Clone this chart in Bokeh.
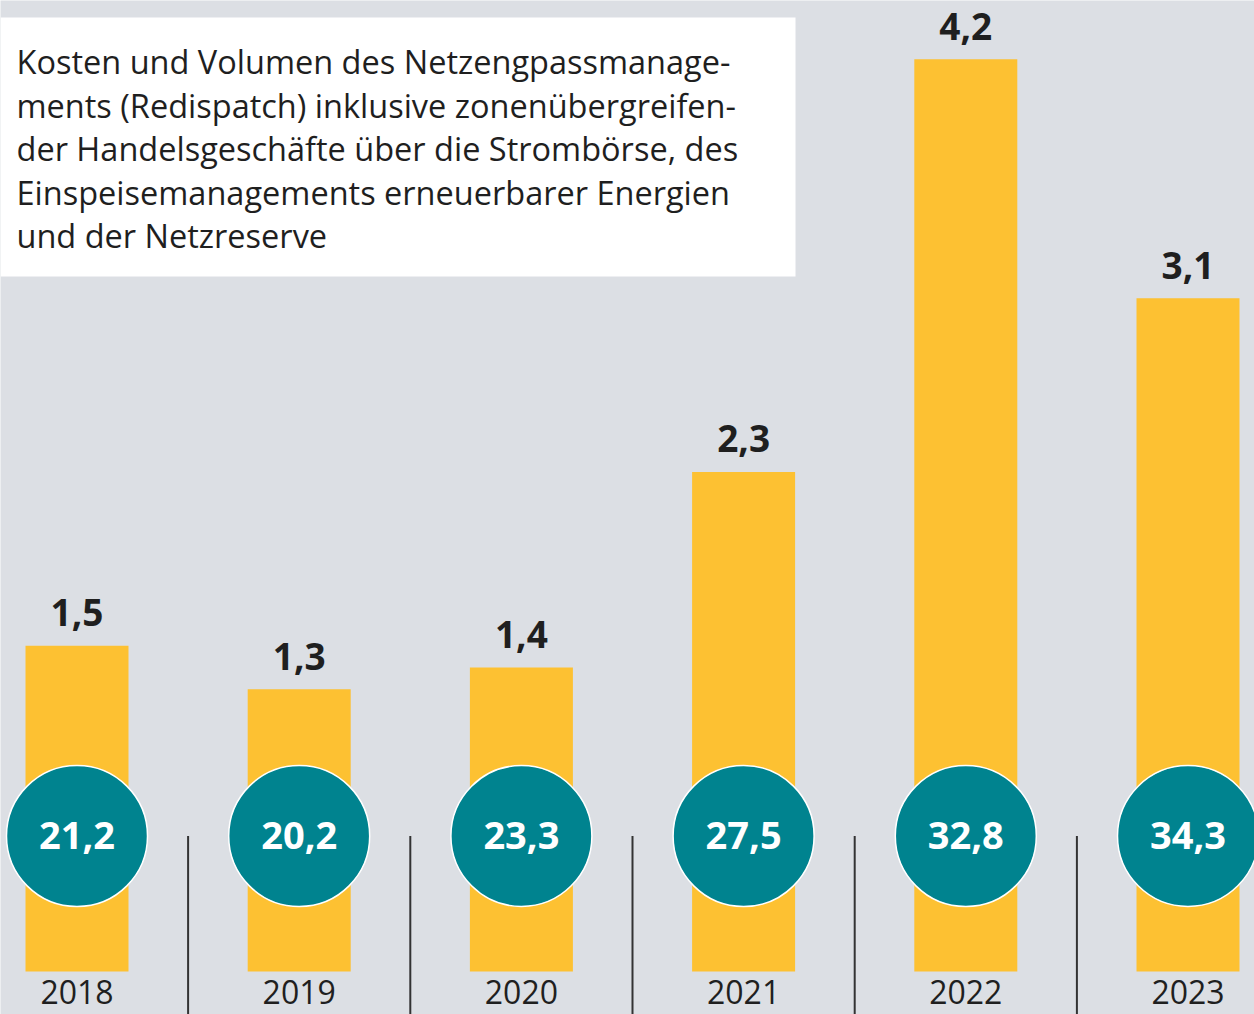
from bokeh.plotting import figure
from bokeh.models import Range1d, ColumnDataSource
from bokeh.embed import file_html
from bokeh.resources import INLINE
from bokeh.core.properties import value

# ---- data ----
years = ["2018", "2019", "2020", "2021", "2022", "2023"]
costs = [1.5, 1.3, 1.4, 2.3, 4.2, 3.1]          # Kosten, Mrd. Euro
volumes = [21.2, 20.2, 23.3, 27.5, 32.8, 34.3]  # Volumen, TWh
title_lines = [
    "Kosten und Volumen des Netzengpassmanage-",
    "ments (Redispatch) inklusive zonenübergreifen-",
    "der Handelsgeschäfte über die Strombörse, des",
    "Einspeisemanagements erneuerbarer Energien",
    "und der Netzreserve",
]

def de(v):
    return f"{v:.1f}".replace(".", ",")

cost_labels = [de(v) for v in costs]
vol_labels = [de(v) for v in volumes]

# ---- layout constants ----
W, H = 1254, 1014
PX_PER_X = 222.2
X0_PX = 76.5
PX_PER_Y = 217.2
Y0_PX = 971
SHIFT = 13  # baseline correction for svg text

x_start = -X0_PX / PX_PER_X
x_end = x_start + W / PX_PER_X
y_start = -(H - Y0_PX) / PX_PER_Y
y_end = y_start + H / PX_PER_Y

def dx(px):
    return x_start + px / PX_PER_X

def dy(py):
    return y_end - py / PX_PER_Y

BG = "#dcdfe4"
YELLOW = "#fdc132"
TEAL = "#00838f"
TXT = "#1f1f1f"
FONT = "Open Sans"

xs = list(range(len(years)))
circle_y = dy(835.5)

src = ColumnDataSource(dict(x=xs, year=years, cost=costs, vol=volumes,
                            cost_label=cost_labels, vol_label=vol_labels,
                            cy=[circle_y] * len(xs), zero=[0] * len(xs)))

p = figure(width=W, height=H, x_range=Range1d(x_start, x_end),
           y_range=Range1d(y_start, y_end), output_backend="svg",
           toolbar_location=None, min_border=0, x_axis_type=None,
           y_axis_type=None, background_fill_color=BG,
           border_fill_color=BG, outline_line_color=None)
p.grid.visible = False

# title box
p.quad(left=[dx(0)], right=[dx(795)], top=[dy(17)], bottom=[dy(276)],
       fill_color="white", line_color=None)
base0 = 74 - SHIFT
step = 43.5
p.text(x=[dx(16)] * len(title_lines),
       y=[dy(base0 + i * step) for i in range(len(title_lines))],
       text=title_lines, text_font=value(FONT), text_font_size="32.5px",
       text_color=TXT, text_align="left", text_baseline="alphabetic")

# bars
p.vbar(x="x", top="cost", bottom=0, width=103 / PX_PER_X, source=src,
       fill_color=YELLOW, line_color=None)
p.text(x="x", y="cost", text="cost_label", source=src, y_offset=-20 - SHIFT,
       text_font=value(FONT), text_font_style="bold", text_font_size="37px",
       text_color=TXT, text_align="center", text_baseline="alphabetic")

# dividers
p.segment(x0=[x + 0.5 for x in xs[:-1]], y0=[circle_y] * (len(xs) - 1),
          x1=[x + 0.5 for x in xs[:-1]], y1=[y_start] * (len(xs) - 1),
          line_color="#333333", line_width=2)

# circles
p.scatter(x="x", y="cy", size=141, source=src, fill_color=TEAL,
          line_color="white", line_width=1.5)
p.text(x="x", y="cy", text="vol_label", source=src, y_offset=12 - SHIFT,
       text_font=value(FONT), text_font_style="bold", text_font_size="38px",
       text_color="white", text_align="center", text_baseline="alphabetic")

# year labels
p.text(x="x", y="zero", text="year", source=src, y_offset=33 - SHIFT,
       text_font=value(FONT), text_font_size="32px",
       text_color=TXT, text_align="center", text_baseline="alphabetic")

open("out.html", "w").write(file_html(p, INLINE))
